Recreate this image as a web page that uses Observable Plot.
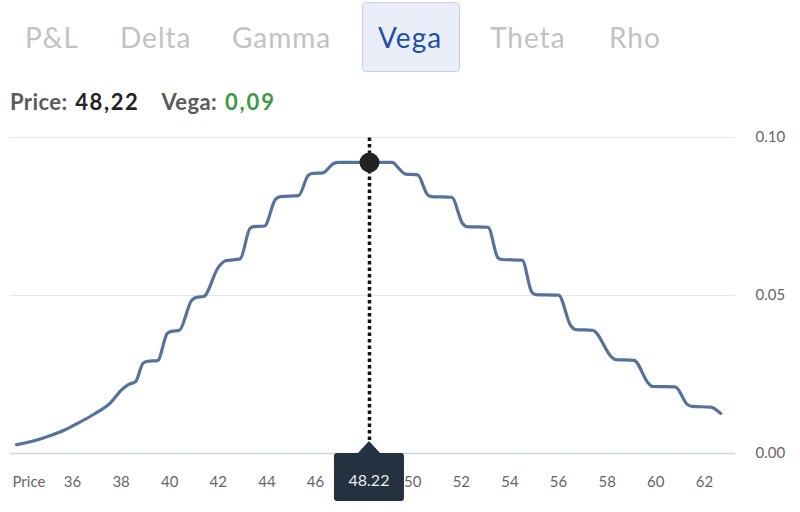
<!DOCTYPE html>
<html>
<head>
<meta charset="utf-8">
<script src="https://cdn.jsdelivr.net/npm/d3@7"></script>
<script src="https://cdn.jsdelivr.net/npm/@observablehq/plot@0.6"></script>
<style>
  html, body { margin: 0; padding: 0; background: #fff; }
  body { width: 800px; height: 512px; position: relative; overflow: hidden; font-family: Lato, "Open Sans", sans-serif; }
  .tab { position: absolute; top: 18px; font-size: 28px; letter-spacing: 1px; color: #c2c2c2; line-height: 38px; }
  .tab.active { color: #2150a6; }
  .tabbox { position: absolute; left: 362px; top: 2px; width: 98px; height: 70px; background: #e9eef9; border: 1px solid #c8cfdb; border-radius: 4px; box-sizing: border-box; }
  .readout { position: absolute; left: 10px; top: 88px; font-size: 22px; letter-spacing: 0.4px; font-weight: 700; color: #5b5b5b; white-space: nowrap; }
  .readout span { display: inline-block; }
  .readout .val { color: #222; letter-spacing: 1.6px; margin-left: 2px; }
  .readout .lab2 { margin-left: 22px; }
  .readout .green { color: #3d9a45; letter-spacing: 1.9px; margin-left: 2px; }
  #chart { position: absolute; left: 0; top: 120px; }
</style>
</head>
<body>
<div class="tabbox"></div>
<div id="tabs"></div>
<div class="readout" id="readout"></div>
<div id="chart"></div>
<script>
// ---- data ----
const tabs = ["P&L", "Delta", "Gamma", "Vega", "Theta", "Rho"];
const tabLeft = [25, 120, 232, 378, 490, 609];
const activeTab = "Vega";

const prices = [
  33.7, 34.5, 35.1, 35.7, 36.2, 36.9, 37.56, 38.0, 38.3, 38.6,
  38.9, 39.1, 39.5, 39.9, 40.05, 40.4, 40.9, 41.1, 41.4, 42.0,
  42.3, 42.9, 43.3, 43.45, 43.9, 44.35, 44.56, 45.3, 45.7, 45.85,
  46.3, 46.75, 46.95, 49.15, 49.45, 49.7, 50.2, 50.6, 50.75, 51.6,
  52.05, 52.2, 53.1, 53.5, 53.65, 54.5, 54.9, 55.05, 56.0, 56.5,
  56.7, 57.4, 58.2, 58.35, 59.1, 59.7, 59.87, 60.8, 61.3, 61.5,
  62.25, 62.67
];
const vegas = [
  0.0028, 0.0042, 0.0057, 0.0075, 0.0095, 0.0125, 0.0160, 0.0200, 0.0218, 0.0228,
  0.0285, 0.0292, 0.0294, 0.0380, 0.0386, 0.0390, 0.0484, 0.0494, 0.0497, 0.0589,
  0.0610, 0.0616, 0.0712, 0.0718, 0.0720, 0.0804, 0.0813, 0.0816, 0.0880, 0.0886,
  0.0888, 0.0918, 0.0921, 0.0921, 0.0900, 0.0884, 0.0882, 0.0820, 0.0813, 0.0811,
  0.0728, 0.0718, 0.0716, 0.0620, 0.0614, 0.0612, 0.0510, 0.0503, 0.0501, 0.0405,
  0.0392, 0.0390, 0.0304, 0.0297, 0.0295, 0.0222, 0.0212, 0.0211, 0.0155, 0.0149,
  0.0147, 0.0127
];
// 48 sits under the tooltip in the reference, so it is not shown
const xTicks = [36, 38, 40, 42, 44, 46, 50, 52, 54, 56, 58, 60, 62];
const yTicks = [0, 0.05, 0.10];
const selPrice = 48.22;
const selVega = 0.0921;
const selPriceLabel = "48,22";
const selVegaLabel = "0,09";
const tooltipLabel = "48.22";

// ---- header ----
const tabsEl = document.getElementById("tabs");
tabs.forEach((t, i) => {
  const d = document.createElement("div");
  d.className = "tab" + (t === activeTab ? " active" : "");
  d.style.left = tabLeft[i] + "px";
  d.textContent = t;
  tabsEl.appendChild(d);
});
document.getElementById("readout").innerHTML =
  `<span>Price:</span> <span class="val">${selPriceLabel}</span><span class="lab2">Vega:</span> <span class="green">${selVegaLabel}</span>`;

// ---- chart ----
const data = prices.map((p, i) => ({price: p, vega: vegas[i]}));
const W = 800, H = 392;

const plot = Plot.plot({
  width: W,
  height: H,
  marginLeft: 10,
  marginRight: 65,
  marginTop: 17,
  marginBottom: 59,
  style: {fontFamily: "Lato, 'Open Sans', sans-serif", fontSize: "15px", color: "#666", background: "transparent"},
  x: {domain: [33.45, 63.28]},
  y: {domain: [0, 0.10]},
  marks: [
    Plot.ruleY([0.05, 0.10], {stroke: "#e6e6e6", strokeWidth: 1}),
    Plot.ruleY([0], {stroke: "#c9d5ea", strokeWidth: 1.5}),
    Plot.axisX({ticks: xTicks, tickSize: 0, tickPadding: 23, tickFormat: d => d, fill: "#666", fontSize: 15, label: null}),
    Plot.axisY({anchor: "right", ticks: yTicks, tickSize: 0, tickPadding: 20, tickFormat: d3.format(".2f"), fill: "#666", fontSize: 15, label: null, dy: 0}),
    Plot.text(["Price"], {frameAnchor: "bottom-left", dx: 2, dy: 29, textAnchor: "start", lineAnchor: "middle", fill: "#666", fontSize: 15}),
    Plot.line(data, {x: "price", y: "vega", stroke: "#55729c", strokeWidth: 3.2, curve: "monotone-x"}),
    Plot.ruleX([selPrice], {y1: 0, y2: 0.10, stroke: "#111", strokeWidth: 3.5, strokeDasharray: "3.5,3"}),
    Plot.dot([{price: selPrice, vega: selVega}], {x: "price", y: "vega", r: 10, fill: "#222", stroke: "none"})
  ]
});
document.getElementById("chart").appendChild(plot);

// tooltip drawn from the plot's own scales
{
  const sx = plot.scale("x"), sy = plot.scale("y");
  const cx = sx.apply(selPrice), y0 = sy.apply(0);
  const bw = 70, bh = 48, ptr = 12, pw = 11, r = 3;
  const svg = d3.select(plot);
  const g = svg.append("g");
  const bt = y0, bl = cx - bw / 2, br = cx + bw / 2, bb = bt + bh;
  const path = `M${bl + r},${bt} L${cx - pw},${bt} L${cx},${bt - ptr} L${cx + pw},${bt} L${br - r},${bt}
    Q${br},${bt} ${br},${bt + r} L${br},${bb - r} Q${br},${bb} ${br - r},${bb}
    L${bl + r},${bb} Q${bl},${bb} ${bl},${bb - r} L${bl},${bt + r} Q${bl},${bt} ${bl + r},${bt} Z`;
  g.append("path").attr("d", path).attr("fill", "#243140");
  g.append("text").attr("x", cx).attr("y", bt + 29).attr("text-anchor", "middle")
    .attr("dominant-baseline", "middle").attr("fill", "#e9ecf0").attr("font-size", 16).text(tooltipLabel);
}
</script>
</body>
</html>
